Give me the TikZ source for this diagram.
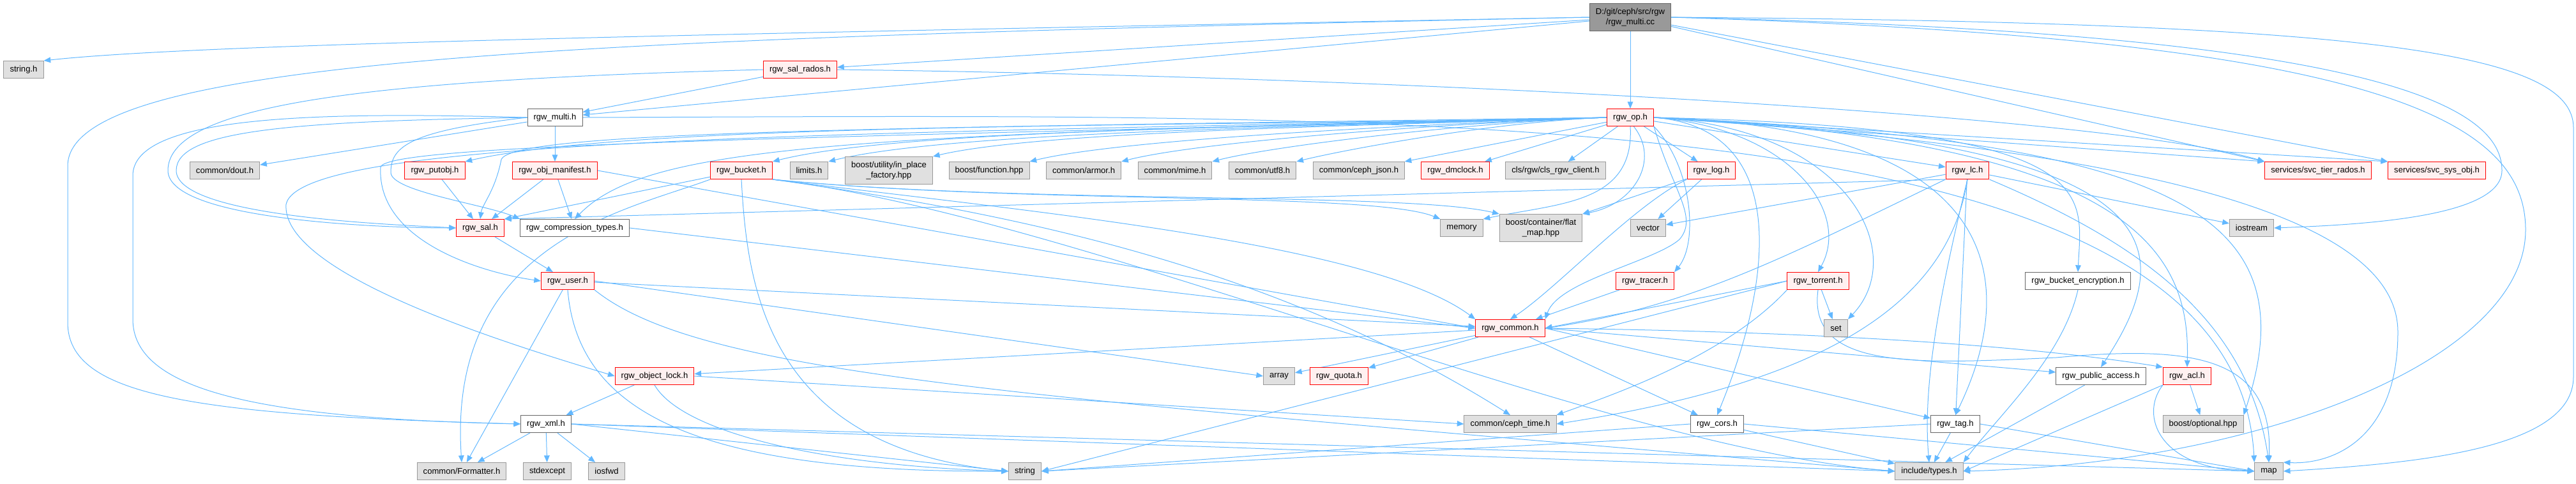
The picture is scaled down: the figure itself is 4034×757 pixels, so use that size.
\documentclass[tikz,border=0pt]{standalone}
\usepackage{fontspec}
\setmainfont{Liberation Sans}
\usetikzlibrary{arrows.meta, backgrounds}
\definecolor{incblue}{RGB}{99,184,255}
\definecolor{sysfill}{RGB}{224,224,224}
\definecolor{sysdraw}{RGB}{153,153,153}
\definecolor{truncdraw}{RGB}{255,0,0}
\definecolor{truncfill}{RGB}{255,240,240}
\definecolor{localdraw}{RGB}{102,102,102}
\definecolor{rootfill}{RGB}{153,153,153}

\begin{document}
\begin{tikzpicture}[
  x=0.75pt, y=-0.75pt,
  hdr/.style={rectangle, font=\fontsize{9.8}{12.5}\selectfont, align=center,
              inner xsep=7.2pt, inner ysep=0pt, minimum height=20.25pt, line width=0.75pt},
  syshdr/.style={hdr, draw=sysdraw, fill=sysfill},
  trunchdr/.style={hdr, draw=truncdraw, fill=truncfill},
  localhdr/.style={hdr, draw=localdraw, fill=white},
  roothdr/.style={hdr, draw=localdraw, fill=rootfill},
  twoline/.style={minimum height=32.25pt},
  inc/.style={-{Triangle[length=8pt, width=6.5pt]}, incblue, line width=0.75pt}
]
\useasboundingbox (0,0) rectangle (4034,757);

% the file itself
\node[roothdr, twoline] (main) at (2553,27) {D:/git/ceph/src/rgw\\/rgw\_multi.cc};

\node[syshdr] (stringh) at (37,109) {string.h};
\node[trunchdr] (salrados) at (1253,109) {rgw\_sal\_rados.h};

\node[localhdr] (multi) at (869,184) {rgw\_multi.h};
\node[trunchdr] (op) at (2553,184) {rgw\_op.h};

\node[syshdr] (dout) at (352,267) {common/dout.h};
\node[trunchdr] (putobj) at (681,267) {rgw\_putobj.h};
\node[trunchdr] (manifest) at (869,267) {rgw\_obj\_manifest.h};
\node[trunchdr] (bucket) at (1161,267) {rgw\_bucket.h};
\node[syshdr] (limits) at (1267,267) {limits.h};
\node[syshdr, twoline] (inplace) at (1392,267) {boost/utility/in\_place\\\_factory.hpp};
\node[syshdr] (function) at (1549,267) {boost/function.hpp};
\node[syshdr] (armor) at (1697,267) {common/armor.h};
\node[syshdr] (mime) at (1840,267) {common/mime.h};
\node[syshdr] (utf8) at (1977,267) {common/utf8.h};
\node[syshdr] (cephjson) at (2128,267) {common/ceph\_json.h};
\node[trunchdr] (dmclock) at (2279,267) {rgw\_dmclock.h};
\node[syshdr] (clsclient) at (2436,267) {cls/rgw/cls\_rgw\_client.h};
\node[trunchdr] (log) at (2680,267) {rgw\_log.h};
\node[trunchdr] (lc) at (3081,267) {rgw\_lc.h};
\node[trunchdr] (tier) at (3630,267) {services/svc\_tier\_rados.h};
\node[trunchdr] (sysobj) at (3816,267) {services/svc\_sys\_obj.h};

\node[trunchdr] (sal) at (752,357) {rgw\_sal.h};
\node[localhdr] (comptypes) at (900,357) {rgw\_compression\_types.h};
\node[syshdr] (memory) at (2289,357) {memory};
\node[syshdr, twoline] (flatmap) at (2413,357) {boost/container/flat\\\_map.hpp};
\node[syshdr] (vector) at (2581,357) {vector};
\node[syshdr] (iostream) at (3526,357) {iostream};

\node[trunchdr] (user) at (889,440) {rgw\_user.h};
\node[trunchdr] (tracer) at (2576,440) {rgw\_tracer.h};
\node[trunchdr] (torrent) at (2847,440) {rgw\_torrent.h};
\node[localhdr] (bucketenc) at (3254,440) {rgw\_bucket\_encryption.h};

\node[trunchdr] (common) at (2365,514) {rgw\_common.h};
\node[syshdr] (set) at (2875,514) {set};

\node[trunchdr] (objlock) at (1025,589) {rgw\_object\_lock.h};
\node[syshdr] (array) at (2003,589) {array};
\node[trunchdr] (quota) at (2097,589) {rgw\_quota.h};
\node[localhdr] (pubaccess) at (3290,589) {rgw\_public\_access.h};
\node[trunchdr] (acl) at (3425,589) {rgw\_acl.h};

\node[localhdr] (xml) at (855,664) {rgw\_xml.h};
\node[syshdr] (cephtime) at (2365,664) {common/ceph\_time.h};
\node[localhdr] (cors) at (2689,664) {rgw\_cors.h};
\node[localhdr] (tag) at (3062,664) {rgw\_tag.h};
\node[syshdr] (optional) at (3450,664) {boost/optional.hpp};

\node[syshdr] (formatter) at (723,738) {common/Formatter.h};
\node[syshdr] (stdexcept) at (857,738) {stdexcept};
\node[syshdr] (iosfwd) at (950,738) {iosfwd};
\node[syshdr] (string) at (1605,738) {string};
\node[syshdr] (types) at (3021,738) {include/types.h};
\node[syshdr] (map) at (3553,738) {map};

% bends of the long loops
\coordinate (lpA) at (106,260);
\coordinate (lpB) at (106,505);
\coordinate (lpC) at (208,275);
\coordinate (lpD) at (208,500);
\coordinate (salA) at (263,267);
\coordinate (salB) at (276,267);
\coordinate (ctA) at (612,270);
\coordinate (usrA) at (596,262);
\coordinate (olA) at (448,320);
\coordinate (opsalA) at (785,250);
\coordinate (ocA) at (2630,375);
\coordinate (ioA) at (3918,267);
\coordinate (tyA) at (3955,360);
\coordinate (mpA) at (4030,200);
\coordinate (mpB) at (4030,590);
\coordinate (opmpA) at (3755,520);
\coordinate (trA) at (3220,560);

\begin{scope}[on background layer]
% rgw_multi.cc
\draw[inc] (main.west) .. controls (1000,55) and (300,70) .. (stringh.north east);
\draw[inc] (main) -- (salrados);
\draw[inc] (main) -- (multi);
\draw[inc] (main) -- (op);
\draw[inc] (main.west) .. controls (900,60) and (106,90) .. (lpA) -- (lpB) .. controls (106,620) and (300,650) .. (xml.west);
\draw[inc] (main) -- (tier.north west);
\draw[inc] (main) -- (sysobj.north west);
\draw[inc] (main.east) .. controls (3650,50) and (3918,150) .. (ioA) .. controls (3918,340) and (3700,352) .. (iostream.east);
\draw[inc] (main.east) .. controls (3700,60) and (3955,180) .. (tyA) .. controls (3955,560) and (3550,725) .. (types.east);
\draw[inc] (main.east) .. controls (3700,35) and (4030,80) .. (mpA) -- (mpB) .. controls (4030,700) and (3800,725) .. (map.east);

% rgw_sal_rados.h
\draw[inc] (salrados) -- (multi);
\draw[inc] (salrados.west) .. controls (600,125) and (263,160) .. (salA) .. controls (263,345) and (600,357) .. (sal.west);
\draw[inc] (salrados.east) .. controls (2200,120) and (3300,180) .. (tier.north west);

% rgw_multi.h
\draw[inc] (multi.west) .. controls (500,175) and (208,180) .. (lpC) -- (lpD) .. controls (208,610) and (400,655) .. (xml.west);
\draw[inc] (multi.west) .. controls (450,190) and (276,205) .. (salB) .. controls (276,340) and (620,352) .. (sal.west);
\draw[inc] (multi) -- (dout);
\draw[inc] (multi) -- (manifest);
\draw[inc] (multi.west) .. controls (640,205) and (612,230) .. (ctA) .. controls (612,300) and (760,320) .. (comptypes.north west);
\draw[inc] (multi.east) .. controls (2200,180) and (3500,150) .. (map.north west);

% rgw_op.h
\draw[inc] (op.west) .. controls (1886,199) and (1000,190) .. (putobj.north east);
\draw[inc] (op.west) .. controls (2056,199) and (1420,200) .. (bucket.north east);
\draw[inc] (op.west) .. controls (2090,198) and (1490,205) .. (limits.north east);
\draw[inc] (op.west) .. controls (2146,197) and (1630,205) .. (inplace.north east);
\draw[inc] (op.west) .. controls (2200,196) and (1755,218) .. (function.north east);
\draw[inc] (op.west) .. controls (2250,194) and (1877,222) .. (armor.north east);
\draw[inc] (op.west) .. controls (2300,192) and (1996,228) .. (mime.north east);
\draw[inc] (op.west) .. controls (2346,190) and (2107,234) .. (utf8.north east);
\draw[inc] (op) -- (cephjson);
\draw[inc] (op) -- (dmclock);
\draw[inc] (op) -- (clsclient);
\draw[inc] (op) -- (log);
\draw[inc] (op) -- (lc);
\draw[inc] (op.east) -- (tier.north west);
\draw[inc] (op.east) -- (sysobj.north west);
\draw[inc] (op.west) .. controls (1400,200) and (800,205) .. (opsalA) .. controls (775,300) and (755,320) .. (sal.north);
\draw[inc] (op.west) .. controls (1300,210) and (1010,230) .. (comptypes.north);
\draw[inc] (op.west) .. controls (1300,215) and (600,225) .. (usrA) .. controls (590,380) and (760,428) .. (user.west);
\draw[inc] (op.west) .. controls (1300,210) and (470,215) .. (olA) .. controls (440,430) and (800,540) .. (objlock.west);
\draw[inc] (op.south) .. controls (2560,320) and (2440,318) .. (memory.north east);
\draw[inc] ([xshift=4pt]op.south) .. controls (2600,250) and (2560,320) .. (flatmap.north east);
\draw[inc] (op.south east) .. controls (2650,260) and (2660,380) .. (tracer.north east);
\draw[inc] (op.south east) .. controls (2620,300) and (2660,340) .. (ocA) .. controls (2590,410) and (2440,440) .. (common.north east);
\draw[inc] (op.east) .. controls (2800,200) and (2900,330) .. (torrent.north);
\draw[inc] (op.east) .. controls (2900,200) and (2990,400) .. (set.north east);
\draw[inc] (op.east) .. controls (2800,200) and (2780,430) .. (cors.north);
\draw[inc] (op.east) .. controls (3150,200) and (3160,450) .. (tag.north);
\draw[inc] (op.east) .. controls (3300,200) and (3260,300) .. (bucketenc.north);
\draw[inc] (op.east) .. controls (3400,220) and (3420,380) .. (pubaccess.north);
\draw[inc] (op.east) .. controls (3350,220) and (3430,400) .. (acl.north);
\draw[inc] (op.east) .. controls (3400,220) and (3620,330) .. (optional.north east);
\draw[inc] (op.east) .. controls (3450,240) and (3755,360) .. (opmpA) .. controls (3755,690) and (3650,728) .. (map.north east);

% rgw_putobj.h, rgw_obj_manifest.h, rgw_compression_types.h, rgw_sal.h
\draw[inc] (putobj) -- (sal);
\draw[inc] (manifest) -- (sal);
\draw[inc] (manifest) -- (comptypes);
\draw[inc] (manifest.east) -- (common.west);
\draw[inc] (comptypes.east) -- (common.west);
\draw[inc] (sal) -- (user);

% rgw_bucket.h
\draw[inc] (bucket) -- (sal.north east);
\draw[inc] (bucket.south west) .. controls (980,330) and (700,380) .. (formatter.north);
\draw[inc] (bucket.south) .. controls (1170,450) and (1200,700) .. (string.west);
\draw[inc] (bucket.south east) .. controls (1600,320) and (2150,300) .. (memory.north west);
\draw[inc] (bucket.south east) .. controls (1600,320) and (2200,300) .. (flatmap.north west);
\draw[inc] (bucket.south east) .. controls (1600,330) and (2150,380) .. (common.north west);
\draw[inc] (bucket.south east) .. controls (1600,335) and (2000,420) .. (cephtime.north);
\draw[inc] (bucket.south east) .. controls (1700,340) and (2500,700) .. (types.west);

% rgw_user.h
\draw[inc] (user) -- (common);
\draw[inc] (user) -- (formatter);
\draw[inc] (user.south) .. controls (905,650) and (1100,740) .. (string.west);
\draw[inc] (user.east) -- (array.west);
\draw[inc] (user.south east) .. controls (1100,590) and (1600,620) .. (types.west);

% rgw_object_lock.h, rgw_xml.h
\draw[inc] (objlock) -- (xml);
\draw[inc] (objlock.south) .. controls (1070,680) and (1300,730) .. (string.west);
\draw[inc] (objlock.east) -- (cephtime.west);
\draw[inc] (xml) -- (formatter);
\draw[inc] (xml) -- (stdexcept);
\draw[inc] (xml) -- (iosfwd);
\draw[inc] (xml.east) -- (string.west);
\draw[inc] (xml.east) -- (types.west);
\draw[inc] (xml.east) -- (map.west);

% rgw_common.h
\draw[inc] (common) -- (objlock);
\draw[inc] (common) -- (array);
\draw[inc] (common) -- (quota);
\draw[inc] (common) -- (cors);
\draw[inc] (common.east) -- (tag);
\draw[inc] (common.east) -- (pubaccess);
\draw[inc] (common.east) .. controls (2900,520) and (3200,545) .. (acl.north west);

% rgw_tracer.h, rgw_torrent.h, rgw_log.h
\draw[inc] (tracer) -- (common);
\draw[inc] (torrent.west) -- (common.east);
\draw[inc] (torrent) -- (set);
\draw[inc] (torrent.west) -- (string.east);
\draw[inc] (torrent.south west) .. controls (2700,560) and (2520,620) .. (cephtime.north east);
\draw[inc] (torrent.south) .. controls (2830,580) and (3000,570) .. (trA) .. controls (3440,540) and (3560,560) .. (map.north);
\draw[inc] (log) -- (flatmap);
\draw[inc] (log) -- (vector);
\draw[inc] (log.south west) .. controls (2560,320) and (2440,450) .. (common.north);

% rgw_lc.h
\draw[inc] (lc.south west) -- (sal.north east);
\draw[inc] (lc) -- (vector);
\draw[inc] (lc.south west) .. controls (2800,400) and (2650,480) .. (common.east);
\draw[inc] (lc.south) .. controls (3050,480) and (2850,600) .. (cephtime.east);
\draw[inc] (lc.south) .. controls (3040,450) and (3010,600) .. (types.north);
\draw[inc] (lc) -- (tag);
\draw[inc] (lc.south east) .. controls (3350,380) and (3520,500) .. (map.north);
\draw[inc] (lc) -- (iostream);

% bottom rows
\draw[inc] (bucketenc.south) .. controls (3230,560) and (3130,650) .. (types.north east);
\draw[inc] (pubaccess) -- (types);
\draw[inc] (acl) -- (optional);
\draw[inc] (acl.south west) .. controls (3350,650) and (3380,735) .. (map.west);
\draw[inc] (acl.south west) -- (types.east);
\draw[inc] (tag) -- (types);
\draw[inc] (tag.west) -- (string.east);
\draw[inc] (tag.east) -- (map.west);
\draw[inc] (cors) -- (types);
\draw[inc] (cors.west) -- (string.east);
\draw[inc] (cors.east) -- (map.west);
\end{scope}
\end{tikzpicture}
\end{document}
